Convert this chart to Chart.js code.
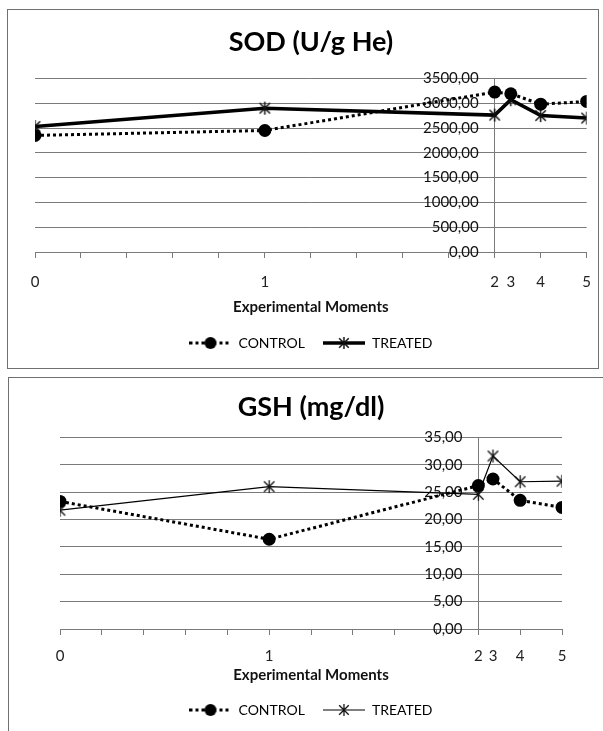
<!DOCTYPE html>
<html><head><meta charset="utf-8">
<script src="https://cdn.jsdelivr.net/npm/chart.js@4.4.0/dist/chart.umd.min.js"></script>
<style>
html,body{margin:0;padding:0;background:#fff;width:603px;height:731px;overflow:hidden;position:relative}
.box{position:absolute;border:1px solid #707070;background:#fff;overflow:hidden}
#b1{left:7px;top:9px;width:590px;height:358px}
#b2{left:8px;top:377px;width:620px;height:380px}
canvas{position:absolute;left:0;top:0}
</style></head><body>
<div class="box" id="b1"><canvas id="c1" width="598" height="358" style="width:598px;height:358px"></canvas></div>
<div class="box" id="b2"><canvas id="c2" width="595" height="353" style="width:595px;height:353px"></canvas></div>
<script>
// ---- data ----
const momentLabels = ['0', '1', '2', '3', '4', '5'];
const momentX = [0, 5, 10, 10.35, 11, 12];
const xTickValues = [0, 1, 2, 3, 4, 5, 6, 7, 8, 9, 10, 10.35, 11, 12];
const sodControl = [2350, 2450, 3225, 3190, 2980, 3035];
const sodTreated = [2530, 2900, 2760, 3070, 2750, 2700];
const gshControl = [23.3, 16.4, 26.2, 27.4, 23.5, 22.2];
const gshTreated = [21.7, 26.0, 24.6, 31.6, 26.9, 27.0];
const sodTicks = [0, 500, 1000, 1500, 2000, 2500, 3000, 3500];
const gshTicks = [0, 5, 10, 15, 20, 25, 30, 35];
const seriesNames = ['CONTROL', 'TREATED'];
const yAxisCross = 10;

const FONT = 'Lato, "Open Sans", sans-serif';
const GRID = '#7a7a7a';
const CLEAR = 'rgba(0,0,0,0)';

function makeStar(size, lw) {
  const c = document.createElement('canvas');
  c.width = size + 2; c.height = size + 2;
  const g = c.getContext('2d');
  const m = (size + 2) / 2, r = size / 2;
  g.strokeStyle = '#111'; g.lineWidth = lw;
  g.beginPath();
  g.moveTo(m - r * 0.8, m - r * 0.8); g.lineTo(m + r * 0.8, m + r * 0.8);
  g.moveTo(m + r * 0.8, m - r * 0.8); g.lineTo(m - r * 0.8, m + r * 0.8);
  g.moveTo(m, m - r); g.lineTo(m, m + r);
  g.stroke();
  return c;
}
function legendSample(kind, lineW, starLW) {
  const c = document.createElement('canvas');
  c.width = 42; c.height = 16;
  const g = c.getContext('2d');
  g.strokeStyle = '#000'; g.fillStyle = '#000';
  g.lineWidth = lineW;
  if (kind === 'dot') g.setLineDash([3, 3]);
  g.beginPath(); g.moveTo(0, 8); g.lineTo(42, 8); g.stroke();
  g.setLineDash([]);
  if (kind === 'dot') {
    g.beginPath(); g.arc(21, 8, 6, 0, Math.PI * 2); g.fill();
  } else {
    g.drawImage(makeStar(12, starLW), 21 - 7, 8 - 7);
  }
  return c;
}
const fmt = v => v.toFixed(2).replace('.', ',');

function buildChart(id, title, control, treated, yTicks, treatedWidth, starLW, L) {
  const samples = [legendSample('dot', 3, starLW), legendSample('line', treatedWidth, starLW)];
  return new Chart(document.getElementById(id), {
    type: 'line',
    data: {
      datasets: [
        { label: seriesNames[0], data: momentX.map((x, i) => ({x, y: control[i]})),
          borderColor: '#000', backgroundColor: '#000', borderWidth: 3, borderDash: [3, 3],
          pointStyle: 'circle', pointRadius: 6.5, pointBackgroundColor: '#000', pointBorderWidth: 0 },
        { label: seriesNames[1], data: momentX.map((x, i) => ({x, y: treated[i]})),
          borderColor: '#000', backgroundColor: '#000', borderWidth: treatedWidth,
          pointStyle: makeStar(13, starLW), pointRadius: 7 }
      ]
    },
    options: {
      responsive: false, animation: false,
      layout: { padding: L.pad, autoPadding: false },
      plugins: {
        tooltip: { enabled: false },
        title: { display: true, text: title, color: '#000',
          font: { family: FONT, size: 27, weight: 'bold' }, padding: L.titlePad },
        legend: { position: 'bottom',
          labels: { usePointStyle: true, pointStyleWidth: 42, color: '#000', padding: 18,
            font: { family: FONT, size: 14 },
            generateLabels: ch => ch.data.datasets.map((ds, i) => ({
              text: ds.label, pointStyle: samples[i], fillStyle: '#000', strokeStyle: '#000',
              lineWidth: 0, hidden: false, datasetIndex: i, fontColor: '#000' })) } }
      },
      scales: {
        x: { type: 'linear', min: 0, max: 12,
          afterBuildTicks: s => { s.ticks = xTickValues.map(v => ({value: v})); },
          ticks: { autoSkip: false, maxRotation: 0, color: '#222', padding: L.tickPad,
            font: { family: FONT, size: 15 },
            callback: v => { const i = momentX.indexOf(v); return i >= 0 ? momentLabels[i] : ''; } },
          grid: { drawOnChartArea: true, tickLength: 6,
            color: ctx => (ctx.tick && ctx.tick.value === yAxisCross) ? GRID : CLEAR,
            tickColor: ctx => (ctx.tick && Number.isInteger(ctx.tick.value)) ? GRID : CLEAR },
          border: { color: GRID },
          title: { display: true, text: 'Experimental Moments', color: '#111',
            font: { family: FONT, size: 15, weight: 'bold' }, padding: L.axisTitlePad } },
        y: { position: { x: yAxisCross - L.labelGap }, min: 0, max: yTicks[yTicks.length - 1],
          afterBuildTicks: s => { s.ticks = yTicks.map(v => ({value: v})); },
          ticks: { autoSkip: false, color: '#111', font: { family: FONT, size: 15 }, callback: v => fmt(v) },
          grid: { color: GRID, drawTicks: false },
          border: { display: false } }
      }
    }
  });
}
buildChart('c1', 'SOD (U/g He)', sodControl, sodTreated, sodTicks, 3.5, 1.5, {
  pad: { left: 27, right: 19, top: 8, bottom: 8 }, titlePad: { top: 8, bottom: 20 },
  tickPad: 15, axisTitlePad: { top: -8, bottom: 2 }, labelGap: 0.35 });
buildChart('c2', 'GSH (mg/dl)', gshControl, gshTreated, gshTicks, 1.2, 1.3, {
  pad: { left: 51, right: 42, top: 4, bottom: 4 }, titlePad: { top: 9, bottom: 14 },
  tickPad: 12, axisTitlePad: { top: -11, bottom: 1 }, labelGap: 0.38 });
</script>
</body></html>
